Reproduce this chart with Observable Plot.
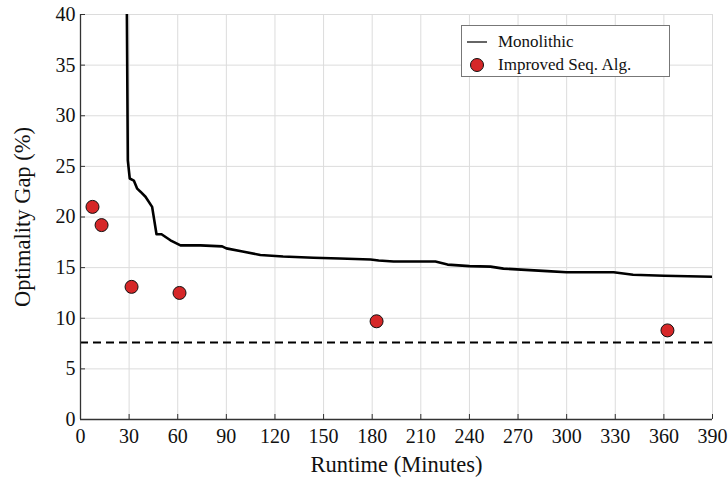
<!DOCTYPE html>
<html>
<head>
<meta charset="utf-8">
<script src="https://cdn.jsdelivr.net/npm/d3@7"></script>
<script src="https://cdn.jsdelivr.net/npm/@observablehq/plot@0.6"></script>
<style>
  body { margin: 0; background: #fff; }
  #wrap { position: relative; width: 728px; height: 480px; font-family: "Liberation Serif", serif; }
  #legend { position: absolute; left: 461px; top: 25px; width: 209px; height: 52px; border: 1px solid #777; background: #fff; box-sizing: border-box; font-size: 17px; color: #111; }
  #legend .row { position: absolute; left: 0; height: 20px; display: flex; align-items: center; }
  #legend svg { margin-left: 4px; margin-right: 10px; }
</style>
</head>
<body>
<div id="wrap"></div>
<script>
// Monolithic solver: runtime (minutes) vs optimality gap (%)
const monoTime = [28.6, 29.2, 30.4, 32.9, 35.0, 37.0, 40.1, 44.2, 46.9, 50.0, 55.5, 61.7, 74, 87.4, 90, 100, 111, 125, 143.8, 160, 179, 184, 193.2, 219, 226.5, 240, 253, 261, 288, 300, 329, 341, 360, 390];
const monoGap  = [40.5, 25.6, 23.8, 23.6, 22.8, 22.5, 22.0, 21.0, 18.3, 18.3, 17.7, 17.2, 17.2, 17.1, 16.9, 16.6, 16.25, 16.1, 15.97, 15.9, 15.8, 15.7, 15.6, 15.6, 15.3, 15.15, 15.1, 14.9, 14.65, 14.55, 14.55, 14.3, 14.2, 14.1];
// Improved sequential algorithm
const seqTime = [7.4, 13.0, 31.5, 61.1, 182.7, 362.2];
const seqGap  = [21.0, 19.2, 13.1, 12.5, 9.7, 8.8];
// Reference gap (dashed)
const refGap = 7.6;
const xTicks = d3.range(0, 391, 30);
const yTicks = d3.range(0, 41, 5);
const legendLabels = ["Monolithic", "Improved Seq. Alg."];

const mono = monoTime.map((t, i) => ({t, g: monoGap[i]}));
const seq = seqTime.map((t, i) => ({t, g: seqGap[i]}));

const W = 728, H = 480, mL = 80, mR = 16, mT = 14, mB = 61;
const plotH = H - mT - mB, plotW = W - mL - mR;
const FONT = "Liberation Serif";

const chart = Plot.plot({
  width: W, height: H,
  marginLeft: mL, marginRight: mR, marginTop: mT, marginBottom: mB,
  style: { fontFamily: FONT, fontSize: "19px", color: "#111", background: "#fff" },
  x: { domain: [0, 390], ticks: xTicks },
  y: { domain: [0, 40], ticks: yTicks },
  marks: [
    Plot.ruleX(xTicks, { stroke: "#dcdcdc", strokeWidth: 1 }),
    Plot.ruleY(yTicks, { stroke: "#dcdcdc", strokeWidth: 1 }),
    Plot.ruleY([refGap], { stroke: "#000", strokeWidth: 2, strokeDasharray: "8,5" }),
    Plot.line(mono, { x: "t", y: "g", stroke: "#000", strokeWidth: 2.6, clip: true }),
    Plot.dot(seq, { x: "t", y: "g", r: 6.5, fill: "#d62728", stroke: "#111", strokeWidth: 1 }),
    Plot.tickX(xTicks, { x: d => d, stroke: "#333", insetTop: plotH - 5 }),
    Plot.tickY(yTicks, { y: d => d, stroke: "#333", insetRight: plotW - 5 }),
    Plot.ruleX([0], { stroke: "#333", strokeWidth: 1.3 }),
    Plot.ruleY([0], { stroke: "#333", strokeWidth: 1.3 }),
    Plot.axisX(xTicks, { tickSize: 0, tickPadding: 9, label: null, fontSize: 20, fontFamily: FONT }),
    Plot.axisY(yTicks, { tickSize: 0, tickPadding: 5, label: null, fontSize: 20, fontFamily: FONT }),
    Plot.text(["Runtime (Minutes)"], { frameAnchor: "bottom", dy: 52, fontSize: 22.5, fontFamily: FONT }),
    Plot.text(["Optimality Gap (%)"], { frameAnchor: "left", textAnchor: "middle", dx: -58, rotate: -90, fontSize: 22.5, fontFamily: FONT })
  ]
});

const wrap = document.getElementById("wrap");
wrap.appendChild(chart);

const legend = document.createElement("div");
legend.id = "legend";
legend.innerHTML = `
  <div class="row" style="top:6px"><svg width="22" height="10"><line x1="1" y1="5" x2="21" y2="5" stroke="#333" stroke-width="1.5"/></svg><span>${legendLabels[0]}</span></div>
  <div class="row" style="top:29px"><svg width="22" height="16"><circle cx="11" cy="8" r="6.5" fill="#d62728" stroke="#111" stroke-width="1"/></svg><span>${legendLabels[1]}</span></div>`;
wrap.appendChild(legend);
</script>
</body>
</html>
